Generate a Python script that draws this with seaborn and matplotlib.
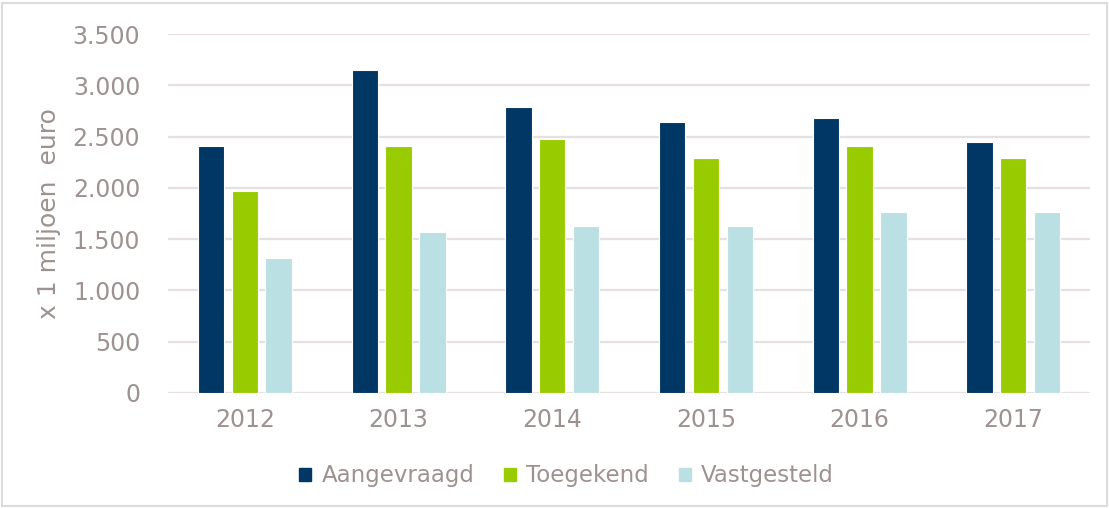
import matplotlib
matplotlib.use("Agg")
import matplotlib.pyplot as plt
import matplotlib.patches as mpatches
from matplotlib.ticker import FuncFormatter
import pandas as pd
import seaborn as sns

# ── Data (x 1 miljoen euro) ───────────────────────────────
years = ["2012", "2013", "2014", "2015", "2016", "2017"]
aangevraagd = [2410, 3150, 2790, 2640, 2680, 2450]
toegekend = [1970, 2410, 2480, 2290, 2410, 2290]
vastgesteld = [1320, 1570, 1630, 1630, 1760, 1760]
series = ["Aangevraagd", "Toegekend", "Vastgesteld"]

COLORS = ["#003764", "#99CC00", "#BBE0E3"]
TEXT = "#9d9290"
GRID = "#e6e0e0"

df = pd.DataFrame({"jaar": years, series[0]: aangevraagd,
                   series[1]: toegekend, series[2]: vastgesteld})
long = df.melt(id_vars="jaar", var_name="soort", value_name="waarde")

sns.set_theme(style="white")
plt.rcParams["font.family"] = ["DejaVu Sans"]

fig = plt.figure(figsize=(11.09, 5.08), dpi=100)
ax = fig.add_axes([0.1515, 0.2264, 0.8315, 0.7066])

sns.barplot(data=long, x="jaar", y="waarde", hue="soort", hue_order=series,
            palette=COLORS, width=0.66, gap=0.22, saturation=1,
            edgecolor="white", linewidth=0.8, legend=False, ax=ax, zorder=3)

ax.set_ylim(0, 3500)
ax.set_yticks(range(0, 3501, 500))
ax.yaxis.set_major_formatter(FuncFormatter(lambda v, p: f"{int(v):,}".replace(",", ".")))
ax.grid(axis="y", color=GRID, linewidth=1.6, zorder=0)
ax.set_axisbelow(True)
for s in ax.spines.values():
    s.set_visible(False)
ax.tick_params(axis="both", length=0, labelsize=17, labelcolor=TEXT)
ax.tick_params(axis="x", pad=11)
ax.tick_params(axis="y", pad=20)
ax.set_xlabel("")
ax.set_ylabel("x 1 miljoen  euro", fontsize=18, color=TEXT, labelpad=8)
ax.set_xlim(-0.5, 5.5)

handles = [mpatches.Patch(color=c, label=s) for c, s in zip(COLORS, series)]
fig.legend(handles=handles, loc="center", bbox_to_anchor=(0.511, 0.063), ncol=3,
           frameon=False, fontsize=16.5, labelcolor=TEXT, handlelength=0.52,
           handleheight=0.52, handletextpad=0.45, columnspacing=1.3)

fig.patches.append(mpatches.Rectangle((0.002, 0.003), 0.996, 0.992, transform=fig.transFigure,
                                      fill=False, edgecolor="#dcdcdc", linewidth=1.5))

plt.savefig("out.png", dpi=100)
plt.close()
